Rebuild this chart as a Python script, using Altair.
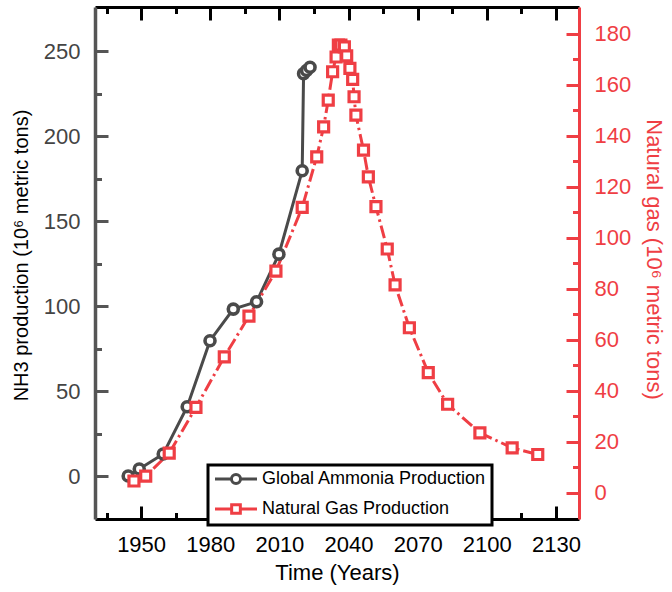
import altair as alt
import pandas as pd

# ---- data ----
amm_year = [1944.4, 1949.2, 1959.6, 1970.0, 1979.9, 1990.0, 2000.1, 2009.8, 2019.9, 2020.5, 2021.8, 2023.3]
amm_val = [0.3, 4.4, 13.2, 41.0, 79.8, 98.4, 102.7, 130.7, 179.7, 236.8, 238.7, 240.6]

gas_year = [1946.9, 1952.0, 1962.2, 1973.8, 1986.1, 1996.8, 2008.5, 2019.9, 2026.2, 2029.2,
            2031.2, 2033.1, 2034.6, 2035.6, 2036.7, 2038.2, 2039.2, 2040.6, 2041.8, 2042.4,
            2043.2, 2046.5, 2048.6, 2051.9, 2056.8, 2060.2, 2066.4, 2074.6, 2083.0, 2097.0,
            2111.0, 2122.1]
gas_val = [4.6, 6.5, 15.5, 33.5, 53.3, 69.3, 86.9, 111.9, 131.7, 143.5,
           154.0, 165.1, 170.9, 175.6, 175.6, 174.9, 171.3, 166.4, 162.1, 155.3,
           148.1, 134.4, 123.9, 112.2, 95.6, 81.5, 64.7, 47.1, 34.7, 23.5,
           17.6, 15.0]

x_ticks = [1950, 1980, 2010, 2040, 2070, 2100, 2130]
x_minor = [1935, 1965, 1995, 2025, 2055, 2085, 2115]
left_ticks = [0, 50, 100, 150, 200, 250]
left_minor = [25, 75, 125, 175, 225]
right_ticks = [0, 20, 40, 60, 80, 100, 120, 140, 160, 180]
right_minor = [10, 30, 50, 70, 90, 110, 130, 150, 170]
series = ["Global Ammonia Production", "Natural Gas Production"]

GRAY = "#4a4a4a"
RED = "#ef3e44"
AXGRAY = "#555555"
FONT = "Liberation Sans"
MAJ, MIN = 13, 6.5
TICKFS = 22

amm = pd.DataFrame({"year": amm_year, "val": amm_val})
gas = pd.DataFrame({"year": gas_year, "val": gas_val})
leg = pd.DataFrame({"series": series})

xscale = alt.Scale(domain=[1930, 2140], nice=False, zero=False)
lscale = alt.Scale(domain=[-25, 276], nice=False, zero=False)
rscale = alt.Scale(domain=[-10.3, 190.5], nice=False, zero=False)


def tick_axis(orient, values, size, color):
    return alt.Axis(orient=orient, values=values, domain=False, labels=False, ticks=True,
                    tickSize=size, tickWidth=3, tickColor=color, offset=-size,
                    grid=False, title="")


bottom_axis = alt.Axis(orient="bottom", values=x_ticks, format="d", ticks=False, tickSize=0,
                       domain=True, domainColor="black", domainWidth=3,
                       labelFont=FONT, labelFontSize=TICKFS, labelColor="black", labelPadding=15,
                       labelFlush=False, labelOverlap=False, grid=False,
                       title="Time (Years)", titleFont=FONT, titleFontSize=22,
                       titleFontWeight="normal", titleColor="black", titlePadding=7)
left_axis = alt.Axis(orient="left", values=left_ticks, ticks=False, tickSize=0,
                     domain=True, domainColor=AXGRAY, domainWidth=3.5,
                     labelFont=FONT, labelFontSize=TICKFS, labelColor="#444444", labelPadding=15,
                     grid=False, title="NH3 production (10⁶ metric tons)", titleFont=FONT,
                     titleFontSize=20, titleFontWeight="normal", titleColor="black",
                     titlePadding=12, titleY=248)
top_axis = alt.Axis(orient="top", ticks=False, tickSize=0, labels=False, domain=True,
                    domainColor="black", domainWidth=3, grid=False, title="")
right_axis = alt.Axis(orient="right", values=right_ticks, ticks=False, tickSize=0,
                      domain=True, domainColor=RED, domainWidth=3,
                      labelFont=FONT, labelFontSize=TICKFS, labelColor=RED, labelPadding=15,
                      grid=False, title="Natural gas (10⁶ metric tons)", titleFont=FONT,
                      titleFontSize=22, titleFontWeight="normal", titleColor=RED,
                      titlePadding=11, titleY=252)

amm_line = alt.Chart(amm).mark_line(color=GRAY, strokeWidth=3).encode(
    x=alt.X("year:Q", scale=xscale, axis=bottom_axis),
    y=alt.Y("val:Q", scale=lscale, axis=left_axis),
)
gas_line = alt.Chart(gas).mark_line(color=RED, strokeWidth=3, strokeDash=[13, 4, 2.5, 4]).encode(
    x=alt.X("year:Q", scale=xscale, axis=top_axis),
    y=alt.Y("val:Q", scale=rscale, axis=right_axis),
)
amm_pts = alt.Chart(amm).mark_point(shape="circle", fill="white", fillOpacity=1, stroke=GRAY,
                                    strokeWidth=3.6, size=100, opacity=1).encode(
    x=alt.X("year:Q", scale=xscale, axis=tick_axis("bottom", x_ticks, MAJ, "black")),
    y=alt.Y("val:Q", scale=lscale, axis=tick_axis("left", left_ticks, MAJ, AXGRAY)),
)
gas_pts = alt.Chart(gas).mark_point(shape="square", fill="white", fillOpacity=1, stroke=RED,
                                    strokeWidth=3.2, size=100, opacity=1).encode(
    x=alt.X("year:Q", scale=xscale, axis=tick_axis("top", x_ticks, MAJ, "black")),
    y=alt.Y("val:Q", scale=rscale, axis=tick_axis("right", right_ticks, MAJ, RED)),
)
amm_minor = alt.Chart(amm).mark_point(opacity=0).encode(
    x=alt.X("year:Q", scale=xscale, axis=tick_axis("bottom", x_minor, MIN, "black")),
    y=alt.Y("val:Q", scale=lscale, axis=tick_axis("left", left_minor, MIN, AXGRAY)),
)
gas_minor = alt.Chart(gas).mark_point(opacity=0).encode(
    x=alt.X("year:Q", scale=xscale, axis=tick_axis("top", x_minor, MIN, "black")),
    y=alt.Y("val:Q", scale=rscale, axis=tick_axis("right", right_minor, MIN, RED)),
)

CIRC = "M-1,0L1.35,0M2.65,0L5,0M1.35,0A0.65,0.65,0,1,1,2.65,0A0.65,0.65,0,1,1,1.35,0Z"
SQR = "M-1,0L1.38,0M2.62,0L5,0M1.38,-0.62L2.62,-0.62L2.62,0.62L1.38,0.62Z"

LEG = alt.Legend(orient="none", legendX=113, legendY=458, title=None, symbolSize=196,
                 symbolStrokeWidth=3, symbolOpacity=1, labelFont=FONT, labelFontSize=18,
                 labelColor="black", labelLimit=400, labelOffset=31, rowPadding=8, padding=5,
                 strokeColor="black", fillColor="white", direction="vertical")

legend_layer = alt.Chart(leg).transform_filter("false").mark_point(
    filled=False, strokeWidth=3, opacity=1).encode(
    stroke=alt.Stroke("series:N", scale=alt.Scale(domain=series, range=[GRAY, RED]), legend=LEG),
    shape=alt.Shape("series:N", scale=alt.Scale(domain=series, range=[CIRC, SQR]), legend=LEG),
)

chart = alt.layer(
    amm_line, gas_line, amm_pts, gas_pts, amm_minor, gas_minor, legend_layer
).resolve_scale(y="independent").resolve_axis(x="independent", y="independent").properties(
    width=484, height=512,
    padding={"left": 95, "top": 7, "right": 93, "bottom": 73},
    autosize=alt.AutoSizeParams(type="none"),
).configure_view(strokeWidth=0).configure_legend(strokeWidth=3, cornerRadius=0)

chart.save("out.html", embed_options={"renderer": "svg", "actions": False})
